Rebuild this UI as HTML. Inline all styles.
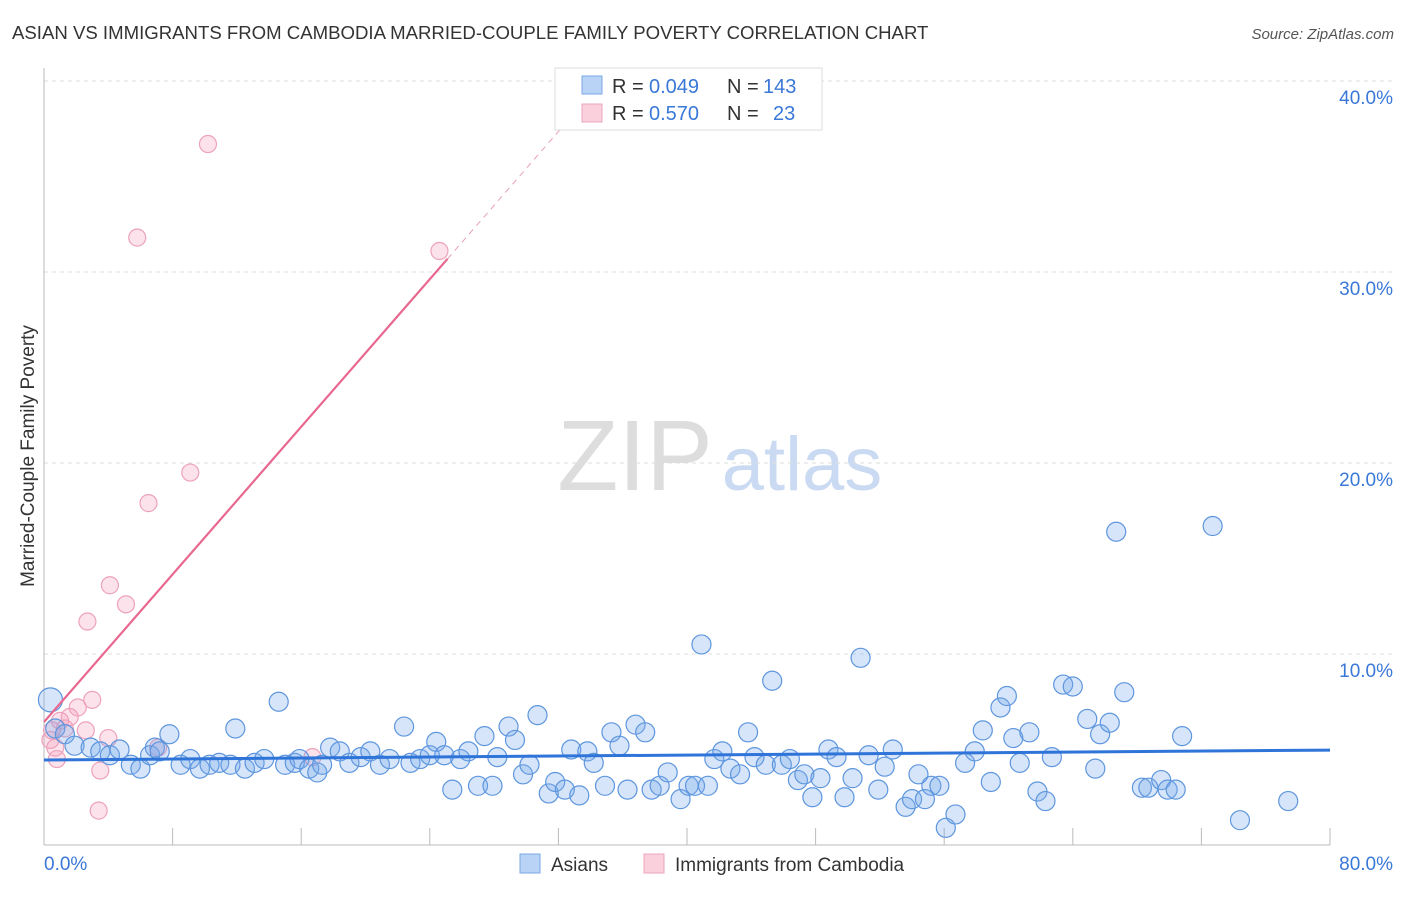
<!DOCTYPE html>
<html><head><meta charset="utf-8"><style>
body{margin:0;background:#fff;font-family:"Liberation Sans",sans-serif;}
svg text{font-family:"Liberation Sans",sans-serif;}
</style></head><body>
<svg id="chart" width="1406" height="892" xmlns="http://www.w3.org/2000/svg">
<text x="12" y="39" font-size="18.6" fill="#333">ASIAN VS IMMIGRANTS FROM CAMBODIA MARRIED-COUPLE FAMILY POVERTY CORRELATION CHART</text>
<text x="1394" y="39" font-size="15" fill="#555" font-style="italic" text-anchor="end">Source: ZipAtlas.com</text>
<text x="0" y="0" transform="translate(34,456) rotate(-90)" font-size="19" fill="#333" text-anchor="middle">Married-Couple Family Poverty</text>
<g>
<text x="635" y="490" font-size="100" fill="#ddd" font-family="Liberation Serif" text-anchor="middle">ZIP</text>
<text x="802" y="490" font-size="76" fill="#c9daf2" text-anchor="middle">atlas</text>
</g>
<g id="grid"></g>
<g id="axes"></g>
<g id="pts"></g>
<g id="trend"></g>
<g>
<rect x="555" y="68" width="267" height="62" fill="#fff" stroke="#ddd"/>
<rect x="582" y="76" width="20" height="18" fill="#b8d3f5" stroke="#7aa8e6"/>
<text x="612" y="93" font-size="20" fill="#333">R =</text>
<text x="649" y="93" font-size="20" fill="#3a78d8">0.049</text>
<text x="727" y="93" font-size="20" fill="#333">N =</text>
<text x="763" y="93" font-size="20" fill="#3a78d8">143</text>
<rect x="582" y="104" width="20" height="18" fill="#fbd0dd" stroke="#eba4bb"/>
<text x="612" y="120" font-size="20" fill="#333">R =</text>
<text x="649" y="120" font-size="20" fill="#3a78d8">0.570</text>
<text x="727" y="120" font-size="20" fill="#333">N =</text>
<text x="773" y="120" font-size="20" fill="#3a78d8">23</text>
</g>
<g>
<rect x="520" y="854" width="20" height="19" fill="#b8d3f5" stroke="#7aa8e6"/>
<text x="551" y="871" font-size="19" fill="#333">Asians</text>
<rect x="644" y="854" width="20" height="19" fill="#fbd0dd" stroke="#eba4bb"/>
<text x="675" y="871" font-size="19" fill="#333">Immigrants from Cambodia</text>
</g>
</svg>
<script>
const yTicks=[10,20,30,40];
const yTickLabels=["10.0%","20.0%","30.0%","40.0%"];
const xTicks=[0,8,16,24,32,40,48,56,64,72,80];
const asianX=[0.4,0.7,1.3,1.9,2.9,3.5,4.1,4.7,5.4,6.0,6.6,6.9,7.2,7.8,8.5,9.1,9.7,10.3,10.9,11.6,11.9,12.5,13.1,13.7,14.6,15.0,15.6,15.9,16.5,17.0,17.3,17.8,18.4,19.0,19.7,20.3,20.9,21.5,22.4,22.8,23.4,24.0,24.4,24.9,25.4,25.9,26.4,27.0,27.4,27.9,28.2,28.9,29.3,29.8,30.2,30.7,31.4,31.8,32.4,32.8,33.3,33.8,34.2,34.9,35.3,35.8,36.3,36.8,37.4,37.8,38.3,38.8,39.6,40.1,40.5,40.9,41.3,41.7,42.2,42.7,43.3,43.8,44.2,44.9,45.3,45.9,46.4,46.9,47.3,47.8,48.3,48.8,49.3,49.8,50.3,50.8,51.3,51.9,52.3,52.8,53.6,54.0,54.4,54.8,55.2,55.7,56.1,56.7,57.3,57.9,58.4,58.9,59.5,59.9,60.3,60.7,61.3,61.8,62.3,62.7,63.4,64.0,64.9,65.4,65.7,66.3,66.7,67.2,68.3,68.7,69.5,69.9,70.4,70.8,72.7,74.4,77.4];
const asianY=[7.6,6.1,5.8,5.2,5.1,4.9,4.7,5.0,4.2,4.0,4.7,5.1,4.9,5.8,4.2,4.5,4.0,4.2,4.3,4.2,6.1,4.0,4.3,4.5,7.5,4.2,4.3,4.5,4.0,3.8,4.2,5.1,4.9,4.3,4.6,4.9,4.2,4.5,6.2,4.3,4.5,4.7,5.4,4.7,2.9,4.5,4.9,3.1,5.7,3.1,4.6,6.2,5.5,3.7,4.2,6.8,2.7,3.3,2.9,5.0,2.6,4.9,4.3,3.1,5.9,5.2,2.9,6.3,5.9,2.9,3.1,3.8,2.4,3.1,3.1,10.5,3.1,4.5,4.9,4.0,3.7,5.9,4.6,4.2,8.6,4.2,4.5,3.4,3.7,2.5,3.5,5.0,4.6,2.5,3.5,9.8,4.7,2.9,4.1,5.0,2.0,2.4,3.7,2.4,3.1,3.1,0.9,1.6,4.3,4.9,6.0,3.3,7.2,7.8,5.6,4.3,5.9,2.8,2.3,4.6,8.4,8.3,6.6,4.0,5.8,6.4,16.4,8.0,3.0,3.0,3.4,2.9,2.9,5.7,16.7,1.3,2.3];
const cambX=[0.4,0.7,1.0,1.3,1.6,2.1,2.6,3.0,3.5,3.4,4.0,4.1,2.7,5.1,5.8,6.5,7.1,9.1,10.2,16.7,24.6,0.5,0.8];
const cambY=[5.5,5.1,6.5,6.1,6.7,7.2,6.0,7.6,3.9,1.8,5.6,13.6,11.7,12.6,31.8,17.9,5.1,19.5,36.7,4.6,31.1,6.0,4.5];
const asianTrend=[4.45,4.97];
const cambTrend=[6.44,0.966];
const NS="http://www.w3.org/2000/svg";
const X0=44,X1=1330,Y0=845,YPER=19.1;
function sx(v){return X0+(v/80)*(X1-X0);}
function sy(v){return Y0-v*YPER;}
function mk(tag,attrs,parent){const e=document.createElementNS(NS,tag);for(const k in attrs)e.setAttribute(k,attrs[k]);parent.appendChild(e);return e;}
const grid=document.getElementById('grid'),axes=document.getElementById('axes'),pts=document.getElementById('pts'),trend=document.getElementById('trend');
yTicks.forEach((t,i)=>{
 const l=mk('line',{x1:44,x2:1392,y1:sy(t),y2:sy(t),stroke:'#ddd','stroke-dasharray':'4,4'},grid);
 
 
 const tx=mk('text',{x:1393,y:sy(t)+23,'font-size':19,fill:'#3a78d8','text-anchor':'end'},axes);
 tx.textContent=yTickLabels[i];
 
 
});
const ax=mk('line',{x1:44,x2:44,y1:68,y2:845,stroke:'#bbb'},axes);


const bx=mk('line',{x1:44,x2:1330,y1:845,y2:845,stroke:'#bbb'},axes);


xTicks.forEach(t=>{if(t===0)return;
 const l=mk('line',{x1:sx(t),x2:sx(t),y1:828,y2:845,stroke:'#bbb'},axes);
 
 
});
const xl=mk('text',{x:44,y:870,'font-size':19,fill:'#3a78d8'},axes);xl.textContent='0.0%';


const xr=mk('text',{x:1393,y:870,'font-size':19,fill:'#3a78d8','text-anchor':'end'},axes);xr.textContent='80.0%';


cambX.forEach((x,i)=>{
 const c=mk('circle',{cx:sx(x),cy:sy(cambY[i]),r:8.5,fill:'rgba(246,160,190,0.3)',stroke:'#eda2bb','stroke-width':1.2},pts);
 
 
});
asianX.forEach((x,i)=>{
 const c=mk('circle',{cx:sx(x),cy:sy(asianY[i]),r:i===0?12:9.5,fill:'rgba(120,170,235,0.3)',stroke:'#5e96de','stroke-width':1.2},pts);
 
 
});
const bt=mk('line',{x1:sx(0),x2:sx(80),y1:sy(asianTrend[0]),y2:sy(asianTrend[1]),stroke:'#2f74d8','stroke-width':3},trend);


const xs=25.1,yEnd=40.5,xe=(yEnd-cambTrend[0])/cambTrend[1];
const pt=mk('line',{x1:sx(0),x2:sx(xs),y1:sy(cambTrend[0]),y2:sy(cambTrend[0]+cambTrend[1]*xs),stroke:'#e8688f','stroke-width':2.2},trend);


const pd=mk('line',{x1:sx(xs),x2:sx(xe),y1:sy(cambTrend[0]+cambTrend[1]*xs),y2:sy(yEnd),stroke:'#e8a0b5','stroke-width':1,'stroke-dasharray':'6,5'},trend);


</script>
</body></html>
